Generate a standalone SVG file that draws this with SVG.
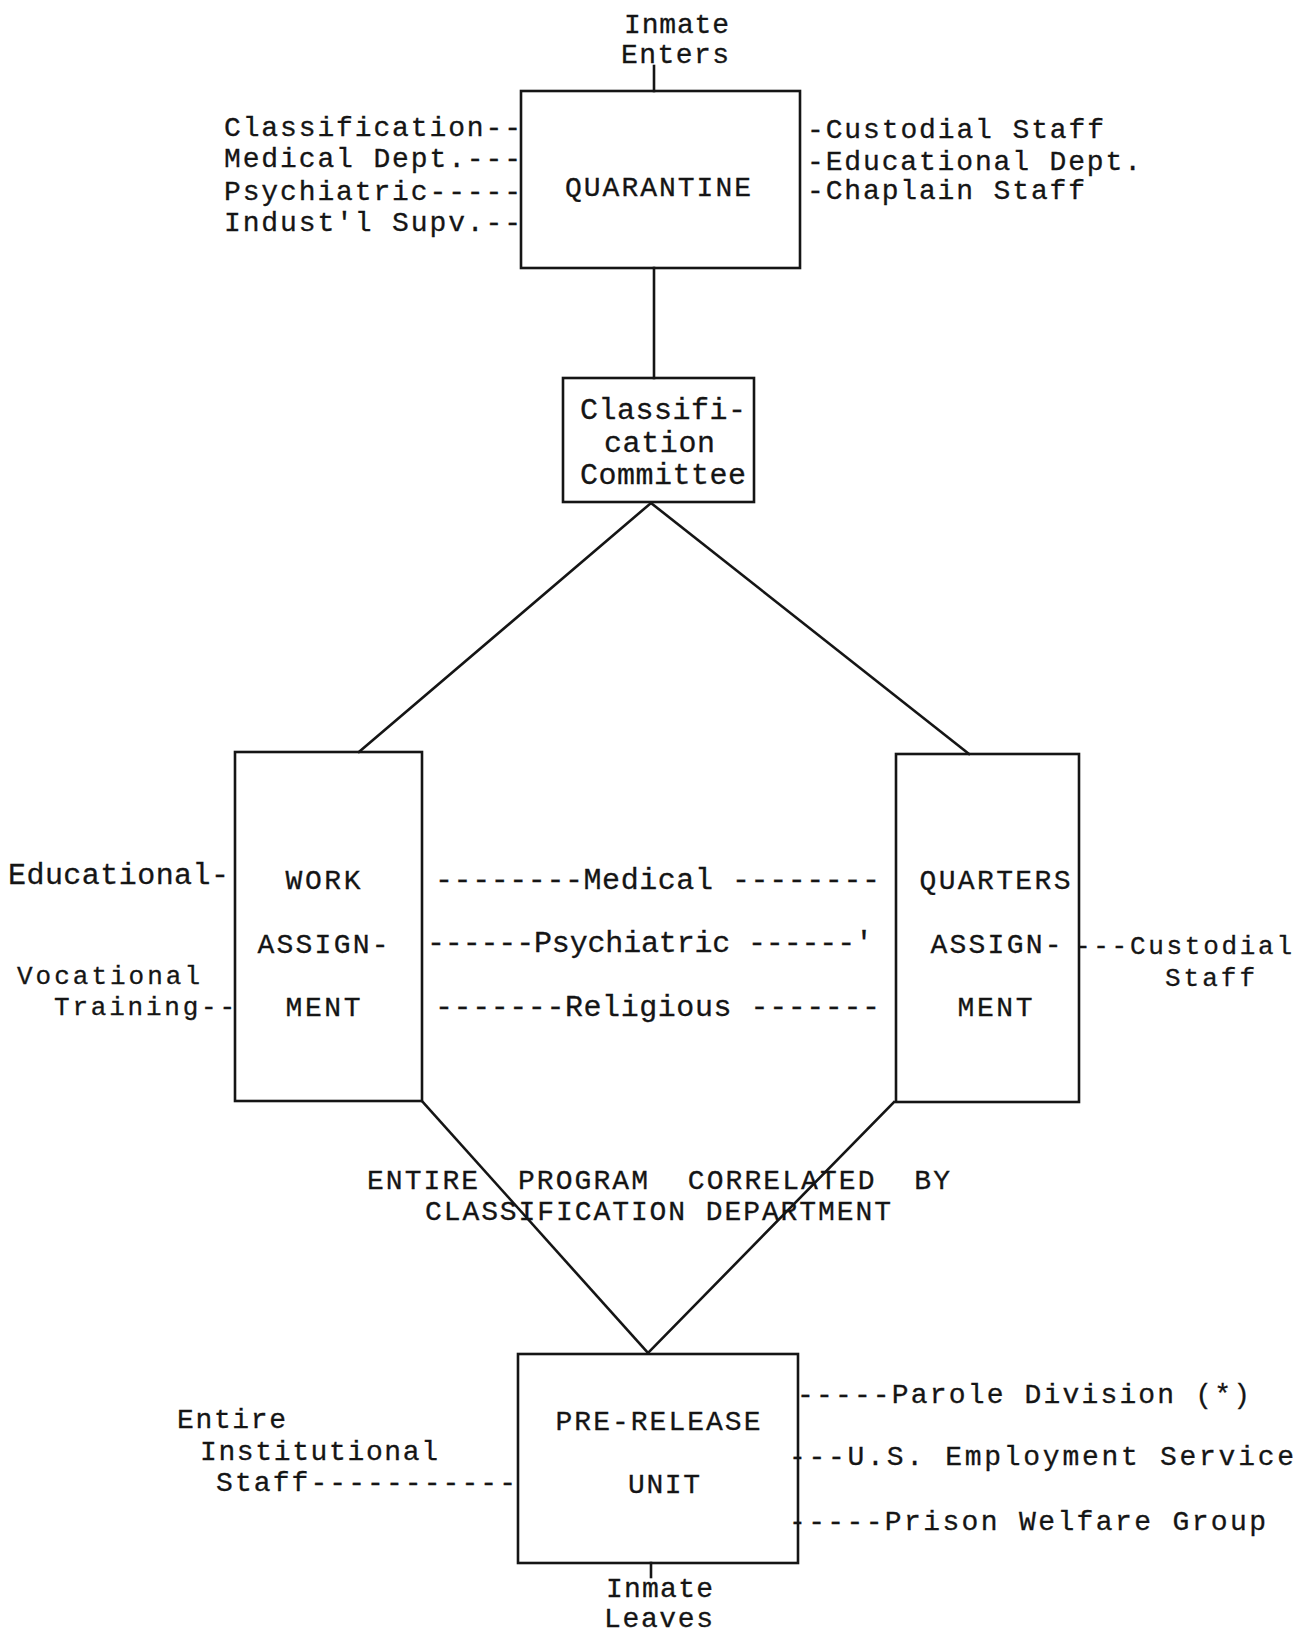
<svg xmlns="http://www.w3.org/2000/svg" width="1298" height="1634" viewBox="0 0 1298 1634">
<style>
.t{font-family:"Liberation Mono","DejaVu Sans Mono",monospace;font-size:28px;fill:#151515;stroke:#151515;stroke-width:0.3;}
.b{font-size:30px;}
.s{font-size:26px;}
.m{text-anchor:middle;}
.box{fill:none;stroke:#151515;stroke-width:2.6;}
.ln{fill:none;stroke:#151515;stroke-width:2.6;stroke-linecap:square;}
</style>
<rect width="1298" height="1634" fill="#ffffff"/>
<g id="connectors">
<line class="ln" x1="654" y1="66" x2="654" y2="91"/>
<line class="ln" x1="654" y1="268" x2="654" y2="378"/>
<line class="ln" x1="651" y1="503" x2="359" y2="752"/>
<line class="ln" x1="651" y1="503" x2="969" y2="754"/>
<line class="ln" x1="422" y1="1101" x2="648" y2="1353"/>
<line class="ln" x1="894" y1="1102" x2="648" y2="1353"/>
<line class="ln" x1="651" y1="1563" x2="651" y2="1577"/>
</g>
<g id="entry">
<text class="t" x="624" y="33" textLength="105" lengthAdjust="spacing">Inmate</text>
<text class="t" x="621" y="63" textLength="108" lengthAdjust="spacing">Enters</text>
</g>
<g id="quarantine">
<rect class="box" x="521" y="91" width="279" height="177"/>
<text class="t m" x="658" y="196" textLength="186" lengthAdjust="spacing">QUARANTINE</text>
<text class="t" x="224" y="136" textLength="297" lengthAdjust="spacing">Classification--</text>
<text class="t" x="224" y="167" textLength="297" lengthAdjust="spacing">Medical Dept.---</text>
<text class="t" x="224" y="200" textLength="297" lengthAdjust="spacing">Psychiatric-----</text>
<text class="t" x="224" y="231" textLength="297" lengthAdjust="spacing">Indust'l Supv.--</text>
<text class="t" x="807" y="138" textLength="297" lengthAdjust="spacing">-Custodial Staff</text>
<text class="t" x="807" y="170" textLength="334" lengthAdjust="spacing">-Educational Dept.</text>
<text class="t" x="807" y="199" textLength="278" lengthAdjust="spacing">-Chaplain Staff</text>
</g>
<g id="classification-committee">
<rect class="box" x="563" y="378" width="191" height="124"/>
<text class="t b" x="580" y="419" textLength="166" lengthAdjust="spacing">Classifi-</text>
<text class="t b" x="604" y="452" textLength="111" lengthAdjust="spacing">cation</text>
<text class="t b" x="580" y="484" textLength="166" lengthAdjust="spacing">Committee</text>
</g>
<g id="work-assignment">
<rect class="box" x="235" y="752" width="187" height="349"/>
<text class="t m" x="323" y="889" textLength="75" lengthAdjust="spacing">WORK</text>
<text class="t m" x="323" y="953" textLength="131" lengthAdjust="spacing">ASSIGN-</text>
<text class="t m" x="323" y="1016" textLength="75" lengthAdjust="spacing">MENT</text>
<text class="t b" x="8" y="884" textLength="221" lengthAdjust="spacing">Educational-</text>
<text class="t s" x="17" y="984" textLength="183" lengthAdjust="spacing">Vocational</text>
<text class="t s" x="54" y="1015" textLength="181" lengthAdjust="spacing">Training--</text>
</g>
<g id="services">
<text class="t b" x="435" y="889" textLength="445" lengthAdjust="spacing" xml:space="preserve">--------Medical --------</text>
<text class="t b" x="427" y="952" textLength="446" lengthAdjust="spacing" xml:space="preserve">------Psychiatric ------'</text>
<text class="t b" x="435" y="1016" textLength="445" lengthAdjust="spacing" xml:space="preserve">-------Religious -------</text>
</g>
<g id="quarters-assignment">
<rect class="box" x="896" y="754" width="183" height="348"/>
<text class="t m" x="995" y="889" textLength="151" lengthAdjust="spacing">QUARTERS</text>
<text class="t m" x="996" y="953" textLength="131" lengthAdjust="spacing">ASSIGN-</text>
<text class="t m" x="995" y="1016" textLength="75" lengthAdjust="spacing">MENT</text>
<text class="t s" x="1075" y="954" textLength="217" lengthAdjust="spacing">---Custodial</text>
<text class="t s" x="1165" y="986" textLength="90" lengthAdjust="spacing">Staff</text>
</g>
<g id="correlation-note">
<text class="t" x="367" y="1189" textLength="583" lengthAdjust="spacing" xml:space="preserve">ENTIRE  PROGRAM  CORRELATED  BY</text>
<text class="t" x="425" y="1220" textLength="466" lengthAdjust="spacing">CLASSIFICATION DEPARTMENT</text>
</g>
<g id="pre-release-unit">
<rect class="box" x="518" y="1354" width="280" height="209"/>
<text class="t m" x="658" y="1430" textLength="205" lengthAdjust="spacing">PRE-RELEASE</text>
<text class="t m" x="664" y="1493" textLength="72" lengthAdjust="spacing">UNIT</text>
<text class="t" x="177" y="1428" textLength="109" lengthAdjust="spacing">Entire</text>
<text class="t" x="200" y="1460" textLength="238" lengthAdjust="spacing">Institutional</text>
<text class="t" x="216" y="1491" textLength="300" lengthAdjust="spacing">Staff-----------</text>
<text class="t" x="797" y="1403" textLength="453" lengthAdjust="spacing">-----Parole Division (*)</text>
<text class="t" x="789" y="1465" textLength="505" lengthAdjust="spacing">---U.S. Employment Service</text>
<text class="t" x="789" y="1530" textLength="477" lengthAdjust="spacing">-----Prison Welfare Group</text>
</g>
<g id="exit">
<text class="t" x="606" y="1597" textLength="107" lengthAdjust="spacing">Inmate</text>
<text class="t" x="604" y="1627" textLength="109" lengthAdjust="spacing">Leaves</text>
</g>
</svg>
